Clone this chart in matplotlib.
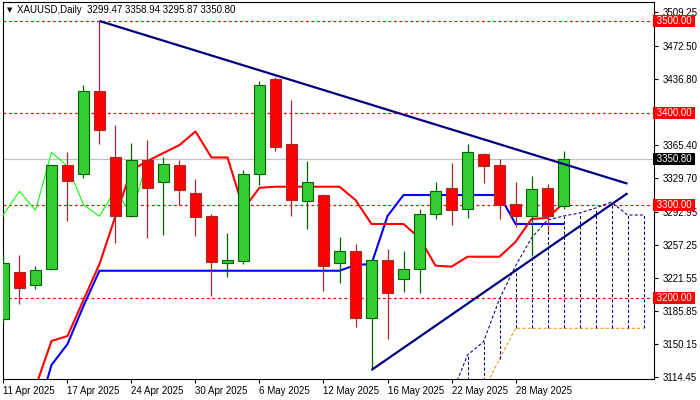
import numpy as np
import matplotlib
matplotlib.use("Agg")
import matplotlib.pyplot as plt
from matplotlib.patches import Rectangle
import matplotlib.transforms as mtransforms

plt.rcParams['font.family'] = ['Liberation Sans', 'DejaVu Sans']

# daily bars, 11 Apr 2025 .. 2 Jun 2025
dates = ["11 Apr 2025", "14 Apr 2025", "15 Apr 2025", "16 Apr 2025", "17 Apr 2025",
         "21 Apr 2025", "22 Apr 2025", "23 Apr 2025", "24 Apr 2025", "25 Apr 2025",
         "28 Apr 2025", "29 Apr 2025", "30 Apr 2025", "1 May 2025", "2 May 2025",
         "5 May 2025", "6 May 2025", "7 May 2025", "8 May 2025", "9 May 2025",
         "12 May 2025", "13 May 2025", "14 May 2025", "15 May 2025", "16 May 2025",
         "19 May 2025", "20 May 2025", "21 May 2025", "22 May 2025", "23 May 2025",
         "26 May 2025", "27 May 2025", "28 May 2025", "29 May 2025", "30 May 2025",
         "2 Jun 2025"]

opens = [3176.9, 3227.8, 3213.4, 3230.8, 3343.5, 3333.8, 3423.8, 3352.2, 3288.2, 3349.0,
         3325.1, 3343.5, 3313.2, 3288.5, 3237.3, 3240.1, 3334.4, 3437.1, 3366.3, 3304.5,
         3311.3, 3237.3, 3250.6, 3177.6, 3240.8, 3219.9, 3230.8, 3290.4, 3318.6, 3295.8,
         3355.5, 3343.5, 3301.2, 3288.2, 3318.6, 3299.47]
highs = [3246.3, 3246.0, 3234.3, 3344.0, 3357.9, 3430.6, 3500.0, 3386.9, 3367.7, 3371.0,
         3353.0, 3349.3, 3328.7, 3290.7, 3270.1, 3338.4, 3434.6, 3439.6, 3414.3, 3348.2,
         3312.5, 3265.8, 3258.2, 3242.0, 3252.8, 3250.6, 3296.1, 3325.1, 3346.0, 3366.6,
         3356.6, 3350.4, 3325.1, 3331.6, 3323.2, 3358.94]
lows = [3172.0, 3193.4, 3209.7, 3230.0, 3283.5, 3329.4, 3366.3, 3259.6, 3287.0, 3265.0,
        3268.3, 3300.0, 3267.2, 3202.1, 3222.7, 3236.8, 3322.5, 3359.4, 3288.9, 3274.8,
        3207.5, 3216.2, 3168.5, 3121.6, 3154.8, 3206.5, 3204.7, 3285.6, 3279.1, 3286.7,
        3324.0, 3285.6, 3276.9, 3245.5, 3271.9, 3295.87]
closes = [3237.6, 3210.8, 3229.7, 3343.5, 3326.8, 3423.8, 3381.5, 3288.2, 3349.0, 3319.2,
          3344.6, 3317.0, 3287.8, 3238.3, 3240.5, 3333.8, 3430.3, 3363.7, 3306.2, 3325.1,
          3234.7, 3250.3, 3177.6, 3240.8, 3204.7, 3230.8, 3290.4, 3315.3, 3294.7, 3357.6,
          3342.4, 3300.8, 3288.2, 3317.5, 3288.9, 3350.80]

# ichimoku lines (nan = off screen)
tenkan = [np.nan, np.nan, 3103.1, 3153.0, 3158.4, 3197.5, 3236.5, 3288.5, 3338.4, 3348.2,
          3356.9, 3365.5, 3380.2, 3352.0, 3352.0, 3296.1, 3319.2, 3320.3, 3320.3, 3320.3,
          3320.3, 3320.3, 3305.9, 3279.9, 3279.9, 3279.9, 3264.7, 3234.7, 3233.6, 3244.4,
          3244.4, 3244.4, 3260.4, 3285.3, 3286.4, 3302.6]
kijun = [np.nan, np.nan, 3067.3, 3127.0, 3149.7, 3191.0, 3229.2, 3229.2, 3229.2, 3229.2,
         3229.2, 3229.2, 3229.2, 3229.2, 3229.2, 3229.2, 3229.2, 3229.2, 3229.2, 3229.2,
         3229.2, 3229.2, 3235.4, 3236.5, 3288.5, 3311.3, 3311.3, 3311.3, 3311.3, 3311.3,
         3311.3, 3311.3, 3279.9, 3279.9, 3279.9, 3279.9]
# senkou spans, shifted forward, bars 28..40
span_start = 28
senkou_a = [3094.4, 3137.8, 3152.2, 3198.6, 3234.3, 3264.7, 3284.2, 3288.5, 3291.8,
            3297.2, 3303.7, 3289.6, 3289.6]
senkou_b = [3029.4, 3064.1, 3098.8, 3133.5, 3166.8, 3166.8, 3166.8, 3166.8, 3166.8,
            3166.8, 3166.8, 3166.8, 3166.8]

levels = [3500.0, 3400.0, 3300.0, 3200.0]
last_price = 3350.80
price_ticks = [3509.25, 3472.50, 3436.80, 3365.40, 3329.70, 3292.95, 3257.25,
               3221.55, 3185.85, 3150.15, 3114.45]
# trend lines as (bar, price)
trend_top = [(6, 3500.0), (39, 3323.6)]
trend_bottom = [(23, 3121.6), (39, 3313.2)]

fig = plt.figure(figsize=(7, 4), dpi=100)
ax = fig.add_axes([3 / 700, 21 / 400, 651 / 700, 377 / 400])
ax.set_xlim(-0.031, 40.656)
ax.set_ylim(3111.8, 3520.6)

# levels and last price line
for lv in levels:
    ax.axhline(lv, color='#ff0000', lw=0.9, ls=(0, (2.2, 2.2)), zorder=1)
ax.axhline(last_price, color='#c0c0c0', lw=0.9, zorder=1)

# cloud
xs = np.arange(span_start, span_start + len(senkou_a))
dash = (0, (3, 2))
ax.plot(xs, senkou_a, color='#000080', lw=0.75, ls=dash, zorder=2)
ax.plot(xs, senkou_b, color='#ff8c00', lw=0.75, ls=dash, zorder=2)
ax.vlines(xs, senkou_b, senkou_a, color='#000080', lw=0.75, linestyles=dash, zorder=2)

# tenkan / kijun / chikou
n = len(closes)
idx = np.arange(n)
ax.plot(idx, kijun, color='#0000ff', lw=1.5, zorder=3)
ax.plot(idx, tenkan, color='#ff0000', lw=1.5, zorder=3)
ax.plot(np.arange(-1, n - 26), closes[25:], color='#00ff00', lw=0.75, zorder=3)

# candles
w = 0.66
for i in range(n):
    o, h, l, c = opens[i], highs[i], lows[i], closes[i]
    if c >= o:
        fill, edge = '#32cd32', '#006400'
    else:
        fill, edge = '#ff0000', '#a52a2a'
    ax.vlines(i, l, h, color=edge, lw=0.9, zorder=4)
    ax.add_patch(Rectangle((i - w / 2, min(o, c)), w, max(abs(c - o), 0.8),
                           facecolor=fill, edgecolor=edge, lw=0.8, zorder=5))

# trend lines
for tl in (trend_top, trend_bottom):
    ax.plot([p[0] for p in tl], [p[1] for p in tl], color='#000080', lw=1.6,
            solid_capstyle='butt', zorder=6)

# axes styling
for s in ax.spines.values():
    s.set_linewidth(0.8)
    s.set_color('black')
ax.yaxis.tick_right()
ax.set_yticks(price_ticks)
ax.set_yticklabels([f"{v:.2f}" for v in price_ticks])
ax.set_xticks(idx[::4])
ax.set_xticklabels(dates[::4], ha='left')
ax.tick_params(axis='both', length=3, width=0.8, labelsize=7, color='black')
ax.tick_params(axis='y', pad=3)
ax.tick_params(axis='x', pad=2)

trans = mtransforms.blended_transform_factory(ax.transAxes, ax.transData)
for lv in levels:
    ax.text(1.0, lv, f" {lv:.2f} ", transform=trans, fontsize=7, color='white',
            va='center', ha='left', zorder=10, clip_on=False,
            bbox=dict(boxstyle='square,pad=0.1', fc='#ff0000', ec='none'))
ax.text(1.0, last_price, f" {last_price:.2f} ", transform=trans, fontsize=7,
        color='white', va='center', ha='left', zorder=10, clip_on=False,
        bbox=dict(boxstyle='square,pad=0.1', fc='black', ec='none'))

fig.text(7 / 700, 1 - 10 / 400, "▼", fontsize=5, va='center', ha='left',
         family=['DejaVu Sans'])
fig.text(17 / 700, 1 - 10 / 400,
         f"XAUUSD,Daily  {opens[-1]:.2f} {highs[-1]:.2f} {lows[-1]:.2f} {closes[-1]:.2f}",
         fontsize=7, va='center', ha='left')

fig.savefig("out.png", dpi=100)
